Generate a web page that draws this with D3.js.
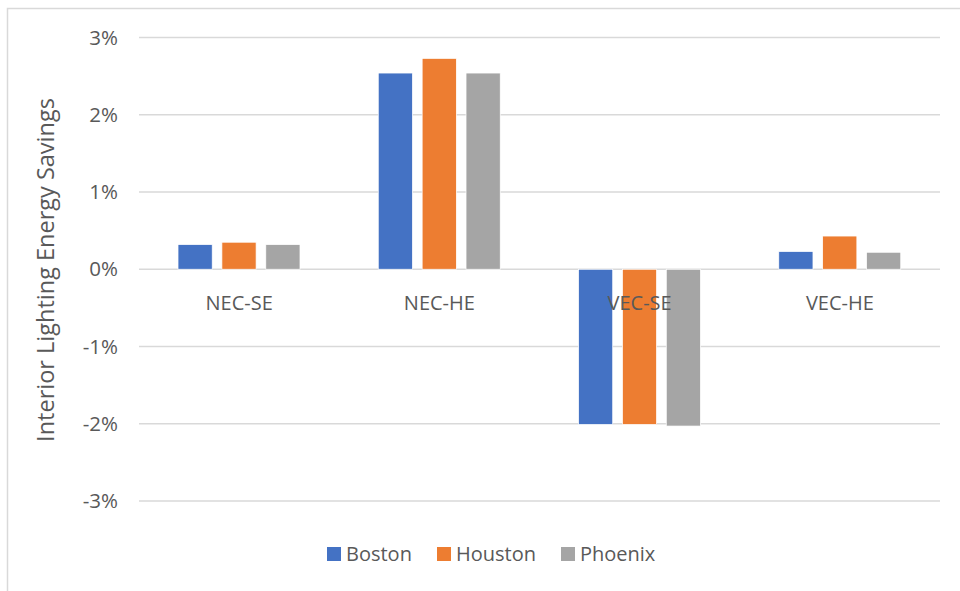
<!DOCTYPE html>
<html>
<head>
<meta charset="utf-8">
<script src="https://cdn.jsdelivr.net/npm/d3@7"></script>
<style>
  html, body { margin: 0; padding: 0; background: #fff; }
  svg { display: block; font-family: "Open Sans", "Liberation Sans", sans-serif; }
</style>
</head>
<body>
<svg id="chart" width="960" height="591"></svg>
<script>
// data (percent)
var categories = ['NEC-SE', 'NEC-HE', 'VEC-SE', 'VEC-HE'];
var cities = ['Boston', 'Houston', 'Phoenix'];
var boston = [0.32, 2.54, -2.01, 0.23];
var houston = [0.35, 2.73, -2.01, 0.43];
var phoenix = [0.32, 2.54, -2.03, 0.22];
var yTicks = [-3, -2, -1, 0, 1, 2, 3];
var colors = ['#4472c4', '#ed7d31', '#a5a5a5'];

var series = [boston, houston, phoenix];
var rows = [];
categories.forEach(function (c, i) {
  cities.forEach(function (s, j) { rows.push({ cat: c, city: s, v: series[j][i] }); });
});

var svg = d3.select('#chart');
// outer chart border
svg.append('rect').attr('x', 7.5).attr('y', 8.5).attr('width', 960).attr('height', 600)
  .attr('fill', 'none').attr('stroke', '#d9d9d9').attr('stroke-width', 1.5);

var L = 139, R = 940;
var x = d3.scaleBand().domain(categories).range([L, R]).paddingInner(0).paddingOuter(0);
var xs = d3.scaleBand().domain(cities).range([39, 200 - 39]).paddingInner(0.22).paddingOuter(0);
var y = d3.scaleLinear().domain([-3, 3]).range([501, 37.5]);

// gridlines
svg.append('g').selectAll('line').data(yTicks).enter().append('line')
  .attr('x1', L).attr('x2', R)
  .attr('y1', function (d) { return y(d); }).attr('y2', function (d) { return y(d); })
  .attr('stroke', '#d9d9d9').attr('stroke-width', 1.5);

// y tick labels
svg.append('g').selectAll('text').data(yTicks).enter().append('text')
  .attr('x', 118).attr('y', function (d) { return y(d) + 7; })
  .attr('text-anchor', 'end').attr('font-size', 20.5).attr('fill', '#595959')
  .text(function (d) { return d + '%'; });

// bars
svg.append('g').selectAll('rect').data(rows).enter().append('rect')
  .attr('x', function (d) { return x(d.cat) + xs(d.city); })
  .attr('width', xs.bandwidth())
  .attr('y', function (d) { return y(Math.max(0, d.v)); })
  .attr('height', function (d) { return Math.abs(y(d.v) - y(0)); })
  .attr('fill', function (d) { return colors[cities.indexOf(d.city)]; })
  .attr('stroke', '#fff').attr('stroke-width', 0.75);

// category labels (drawn over bars)
svg.append('g').selectAll('text').data(categories).enter().append('text')
  .attr('x', function (d) { return x(d) + x.bandwidth() / 2; }).attr('y', 310)
  .attr('text-anchor', 'middle').attr('font-size', 20).attr('fill', '#595959')
  .text(function (d) { return d; });

// y axis title
svg.append('text')
  .attr('transform', 'translate(54,270) rotate(-90)')
  .attr('text-anchor', 'middle').attr('font-size', 23.5).attr('fill', '#595959')
  .text('Interior Lighting Energy Savings');

// legend
var legX = [327, 437, 561];
var lg = svg.append('g').selectAll('g').data(cities).enter().append('g')
  .attr('transform', function (d, i) { return 'translate(' + legX[i] + ',547)'; });
lg.append('rect').attr('width', 14).attr('height', 14)
  .attr('fill', function (d, i) { return colors[i]; });
lg.append('text').attr('x', 19).attr('y', 14).attr('font-size', 20).attr('fill', '#595959')
  .text(function (d) { return d; });
</script>
</body>
</html>
